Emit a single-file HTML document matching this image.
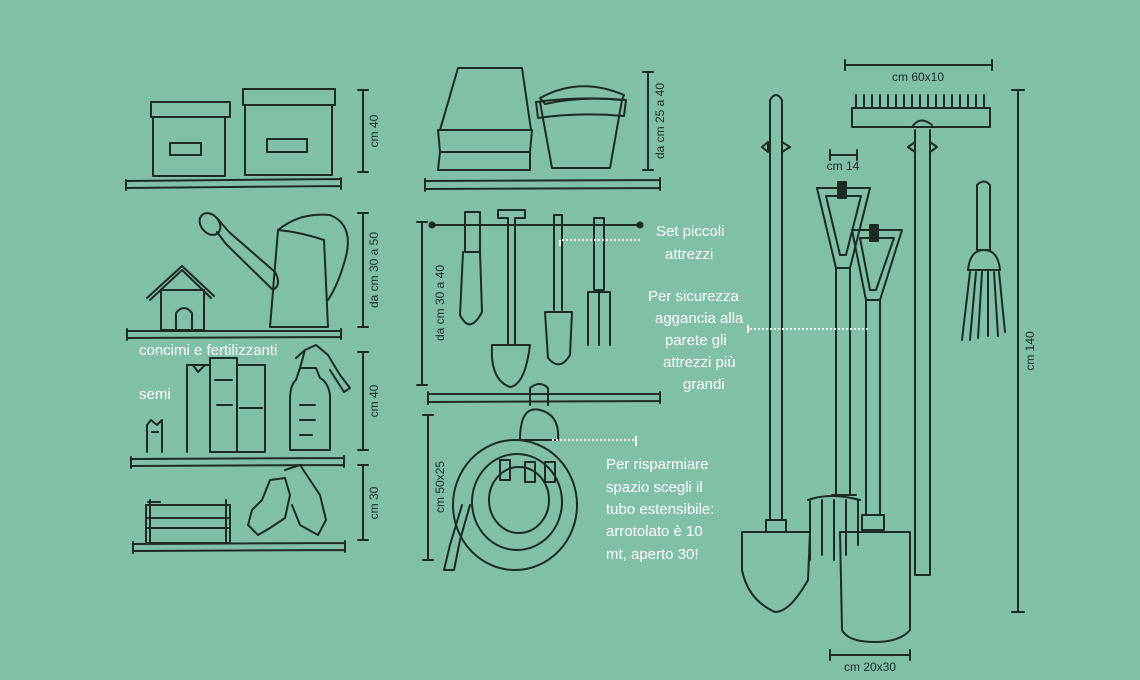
<!DOCTYPE html>
<html><head><meta charset="utf-8"><style>
html,body{margin:0;padding:0;background:#80c1a6;}
svg{display:block}
text{font-family:"Liberation Sans Narrow","Liberation Sans",sans-serif;}
.w{fill:#fff;font-size:15px}
.d{fill:#1e2a24;font-size:12px}
</style></head><body>
<svg width="1140" height="680" viewBox="0 0 1140 680" xmlns="http://www.w3.org/2000/svg">
<rect width="1140" height="680" fill="#80c1a6"/>
<g fill="none" stroke="#1e2a24" stroke-width="2" stroke-linecap="round" stroke-linejoin="round">
<!-- LEFT: boxes -->
<rect x="151" y="102" width="79" height="15"/>
<rect x="153" y="117" width="72" height="59"/>
<rect x="170" y="143" width="31" height="12"/>
<rect x="243" y="89" width="92" height="16"/>
<rect x="245" y="105" width="87" height="70"/>
<rect x="267" y="139" width="40" height="13"/>
<!-- shelf1 -->
<path d="M126 181 L341 179 M126 188 L341 186 M126 180 V190 M341 178 V189"/>
<!-- dims left -->
<path d="M363 90 V172 M358 90 H368 M358 172 H368"/>
<path d="M363 213 V327 M358 213 H368 M358 327 H368"/>
<path d="M363 352 V450 M358 352 H368 M358 450 H368"/>
<path d="M363 465 V540 M358 465 H368 M358 540 H368"/>
<!-- house -->
<path d="M147 298 L182 266 L214 296 M150 300 L182 270 L211 298"/>
<path d="M161 290 V330 H204 V290 M161 290 H204"/>
<path d="M176 330 V313 Q184 303 192 313 V330"/>
<!-- watering can -->
<ellipse cx="210" cy="224" rx="9" ry="12" transform="rotate(-40 210 224)"/>
<path d="M217 218 L229 232 L275 272 Q282 285 273 290 L226 244 L217 232"/>
<path d="M278 230 L270 327 H328 L324 240 Q300 232 278 230 Z"/>
<path d="M278 230 Q300 212 330 215 Q355 225 345 260 Q338 285 328 300"/>
<!-- shelf2 -->
<path d="M127 331 L341 331 M127 338 L341 337 M127 329 V340 M341 329 V339"/>
<!-- seed packets / fertilizer -->
<path d="M147 452 V425 L151 420 L157 425 L162 420 V452 M152 432 H158"/>
<path d="M187 452 V365 H210 V452 M193 365 L198 372 L205 365"/>
<path d="M210 452 V358 H237 V452 H210 M215 380 H232 M217 405 H232"/>
<path d="M237 452 V365 H265 V452 H237 M240 408 H262"/>
<!-- spray bottle -->
<path d="M296 380 Q290 385 290 400 V450 H330 V395 Q328 382 320 378 L316 368 H300 Z"/>
<path d="M300 368 L305 350 L316 345 L328 355 L340 375 L350 388 L344 392 L330 370 M305 350 L296 358"/>
<path d="M300 405 H315 M300 420 H315 M300 435 H312"/>
<!-- shelf3 -->
<path d="M131 459 L344 458 M131 466 L344 465 M131 457 V468 M344 456 V467"/>
<!-- crate -->
<path d="M146 505 H230 V543 H146 Z M146 518 H230 M146 528 H230 M150 500 V543 M226 500 V543 M148 502 H160"/>
<!-- gloves -->
<path d="M270 480 L262 500 L252 510 L248 525 L258 535 L270 528 L285 518 L290 495 L285 478 Z"/>
<path d="M285 470 L300 465 L320 495 L326 520 L318 535 L300 525 L292 505"/>
<!-- shelf4 -->
<path d="M133 544 L345 543 M133 551 L345 550 M133 542 V553 M345 541 V552"/>

<!-- MIDDLE: pots -->
<path d="M458 68 H522 L531 130 L440 130 Z"/>
<path d="M438 130 H532 L530 152 H440 Z M440 152 L438 170 H530 L530 152"/>
<path d="M540 98 Q580 76 624 95 L622 100 Q580 96 545 104 Z"/>
<path d="M540 102 L552 168 H610 L622 100"/>
<path d="M536 102 Q580 96 626 100 L624 116 Q580 112 538 118 Z"/>
<path d="M425 181 L660 180 M425 189 L660 188 M425 179 V191 M660 178 V190"/>
<path d="M648 72 V170 M643 72 H653 M643 170 H653"/>
<!-- rail and small tools -->
<path d="M432 225 H640"/>
<circle cx="432" cy="225" r="2.5" fill="#1e2a24"/><circle cx="640" cy="225" r="2.5" fill="#1e2a24"/>
<path d="M465 212 V252 H480 V212 Z M463 252 L460 315 Q470 335 482 312 L480 252"/>
<path d="M498 210 H525 V218 H515 L515 345 M498 210 V218 H508 V345 M492 345 H530 Q525 385 510 387 Q490 380 492 345"/>
<path d="M554 215 V310 M562 215 V310 M554 215 H562 M545 312 H572 L570 355 Q560 372 548 358 Z"/>
<path d="M594 218 V290 H604 V218 Z M588 292 H610 L610 345 M588 292 V345 M599 292 V345"/>
<path d="M422 222 V385 M417 222 H427 M417 385 H427"/>
<path d="M428 394 L660 394 M428 402 L660 401 M428 392 V404 M660 392 V403"/>
<!-- hose -->
<path d="M530 405 V388 Q540 380 548 388 V405 M520 440 Q520 405 540 410 Q560 415 558 440 Z"/>
<ellipse cx="515" cy="505" rx="62" ry="65"/>
<ellipse cx="517" cy="502" rx="45" ry="48"/>
<ellipse cx="519" cy="500" rx="30" ry="33"/>
<path d="M500 460 V480 H510 V460 Z M525 462 V482 H535 V462 Z M545 462 V482 H555 V462 Z"/>
<path d="M462 505 L450 545 L444 570 H454 L460 540 L470 505"/>
<path d="M428 415 V560 M423 415 H433 M423 560 H433"/>

<!-- RIGHT -->
<path d="M845 65 H992 M845 60 V70 M992 60 V70"/>
<path d="M830 155 H857 M830 150 V160 M857 150 V160"/>
<path d="M830 655 H910 M830 650 V660 M910 650 V660"/>
<path d="M1018 90 V612 M1012 90 H1024 M1012 612 H1024"/>
<!-- rake -->
<path d="M852 108 H990 V127 H852 Z"/>
<path d="M856 95 V108 M864 95 V108 M872 95 V108 M880 95 V108 M888 95 V108 M896 95 V108 M904 95 V108 M912 95 V108 M920 95 V108 M928 95 V108 M936 95 V108 M944 95 V108 M952 95 V108 M960 95 V108 M968 95 V108 M976 95 V108 M984 95 V108"/>
<path d="M912 127 Q920 115 932 125 M915 130 V575 H930 V130"/>
<path d="M908 147 L915 142 V152 Z M937 147 L930 142 V152 Z"/>
<!-- long shovel -->
<path d="M770 100 Q776 90 782 100 V520 H770 Z"/>
<path d="M762 147 L768 142 V152 Z M790 147 L782 142 V152 Z"/>
<path d="M766 520 H786 V532 H766 Z M742 532 H810 L808 580 Q790 612 775 612 Q748 600 742 570 Z"/>
<!-- fork -->
<path d="M817 188 H870 L850 268 H836 Z M826 196 H861 L846 255 H840 Z"/>
<rect x="838" y="182" width="8" height="16" fill="#1e2a24"/>
<path d="M836 268 V495 M850 268 V495 M832 495 H856"/>
<path d="M808 500 Q830 492 860 500 M810 500 V560 M822 500 V555 M834 500 V560 M846 500 V555 M858 500 V545"/>
<!-- spade -->
<path d="M852 230 H902 L880 300 H866 Z M860 238 H894 L876 290 H870 Z"/>
<rect x="870" y="225" width="8" height="16" fill="#1e2a24"/>
<path d="M866 300 V515 M880 300 V515 M862 515 H884 V530 H862 Z"/>
<path d="M840 532 H910 V630 Q900 642 875 642 Q848 642 842 630 Z"/>
<!-- broom -->
<path d="M977 185 Q984 178 990 185 V250 H977 Z"/>
<path d="M968 270 Q970 250 984 250 Q998 250 1000 270 Z"/>
<path d="M970 272 L962 340 M976 272 L970 340 M982 272 L978 338 M988 272 L988 336 M994 272 L998 336 M999 272 L1005 332"/>
</g>
<!-- dotted leaders -->
<g stroke="#fff" stroke-width="2" fill="none">
<path d="M562 240 H640" stroke-dasharray="2 2"/>
<path d="M560 240 V246 M748 325 V333 M636 436 V446"/>
<path d="M750 329 H870" stroke-dasharray="2 2"/>
<path d="M552 440 H636" stroke-dasharray="2 2"/>
</g>
<!-- dimension labels -->
<g class="d">
<text transform="translate(378 131) rotate(-90)" text-anchor="middle">cm 40</text>
<text transform="translate(378 270) rotate(-90)" text-anchor="middle">da cm 30 a 50</text>
<text transform="translate(378 401) rotate(-90)" text-anchor="middle">cm 40</text>
<text transform="translate(378 503) rotate(-90)" text-anchor="middle">cm 30</text>
<text transform="translate(664 121) rotate(-90)" text-anchor="middle">da cm 25 a 40</text>
<text transform="translate(444 303) rotate(-90)" text-anchor="middle">da cm 30 a 40</text>
<text transform="translate(444 487) rotate(-90)" text-anchor="middle">cm 50x25</text>
<text transform="translate(1034 351) rotate(-90)" text-anchor="middle">cm 140</text>
<text x="918" y="81" text-anchor="middle">cm 60x10</text>
<text x="843" y="170" text-anchor="middle">cm 14</text>
<text x="870" y="671" text-anchor="middle">cm 20x30</text>
</g>
<g class="w">
<text x="139" y="355">concimi e fertilizzanti</text>
<text x="139" y="399">semi</text>
<text x="656" y="236">Set piccoli</text>
<text x="665" y="259">attrezzi</text>
<text x="648" y="301">Per sicurezza</text>
<text x="655" y="323">aggancia alla</text>
<text x="665" y="345">parete gli</text>
<text x="663" y="367">attrezzi più</text>
<text x="683" y="389">grandi</text>
<text x="606" y="469">Per risparmiare</text>
<text x="606" y="492">spazio scegli il</text>
<text x="606" y="514">tubo estensibile:</text>
<text x="606" y="536">arrotolato è 10</text>
<text x="606" y="559">mt, aperto 30!</text>
</g>
</svg>
</body></html>
